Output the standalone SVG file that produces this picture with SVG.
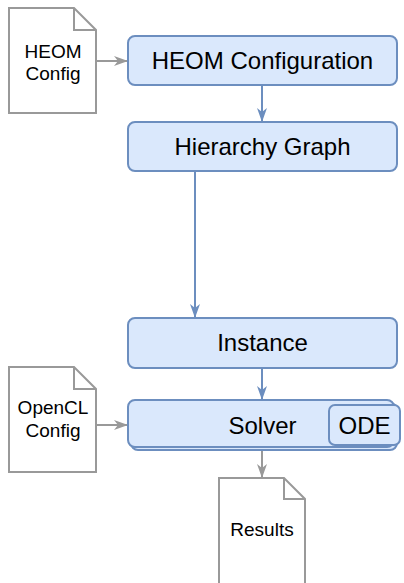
<svg xmlns="http://www.w3.org/2000/svg" width="404" height="583" viewBox="0 0 404 583">
  <style>
    .box { fill: #dae8fc; stroke: #6c8ebf; stroke-width: 2; }
    .doc { fill: #ffffff; stroke: #999999; stroke-width: 2; stroke-linejoin: miter; }
    .fold { fill: none; stroke: #999999; stroke-width: 2; }
    .lbl { font-family: "Liberation Sans", Arial, sans-serif; font-size: 24px; fill: #000000; text-anchor: middle; }
    .doclbl { font-family: "Liberation Sans", Arial, sans-serif; font-size: 19px; fill: #000000; text-anchor: middle; }
    .blue { stroke: #6c8ebf; stroke-width: 2; fill: none; }
    .grey { stroke: #999999; stroke-width: 2; fill: none; }
  </style>
  <defs>
    <marker id="arrowBlue" viewBox="0 0 14 10" refX="13" refY="5" markerWidth="7" markerHeight="5" markerUnits="strokeWidth" orient="auto">
      <path d="M0,0 L14,5 L0,10 L4,5 Z" fill="#6c8ebf"/>
    </marker>
    <marker id="arrowGrey" viewBox="0 0 14 10" refX="13" refY="5" markerWidth="7" markerHeight="5" markerUnits="strokeWidth" orient="auto">
      <path d="M0,0 L14,5 L0,10 L4,5 Z" fill="#999999"/>
    </marker>
  </defs>

  <g id="connectors">
    <line class="grey" x1="96" y1="61" x2="127" y2="61" marker-end="url(#arrowGrey)"/>
    <line class="blue" x1="262" y1="85" x2="262" y2="121" marker-end="url(#arrowBlue)"/>
    <line class="blue" x1="195" y1="171" x2="195" y2="317" marker-end="url(#arrowBlue)"/>
    <line class="blue" x1="262" y1="368" x2="262" y2="399" marker-end="url(#arrowBlue)"/>
    <line class="grey" x1="96" y1="425" x2="127" y2="425" marker-end="url(#arrowGrey)"/>
    <line class="grey" x1="262" y1="450" x2="262" y2="477" marker-end="url(#arrowGrey)"/>
  </g>

  <g id="heom-config-file">
    <path class="doc" d="M9,8 H74 L96,30 V113 H9 Z"/>
    <path class="fold" d="M74,8 V30 H96"/>
    <text class="doclbl" x="53" y="58">HEOM</text>
    <text class="doclbl" x="53" y="80">Config</text>
  </g>

  <g id="heom-configuration">
    <rect class="box" x="128" y="36" width="269" height="49" rx="7"/>
    <text class="lbl" x="262.5" y="69">HEOM Configuration</text>
  </g>

  <g id="hierarchy-graph">
    <rect class="box" x="128" y="122" width="269" height="49" rx="7"/>
    <text class="lbl" x="262.5" y="155">Hierarchy Graph</text>
  </g>

  <g id="instance">
    <rect class="box" x="128" y="318" width="269" height="50" rx="7"/>
    <text class="lbl" x="262.5" y="351">Instance</text>
  </g>

  <g id="opencl-config-file">
    <path class="doc" d="M9,367 H74 L96,389 V472 H9 Z"/>
    <path class="fold" d="M74,367 V389 H96"/>
    <text class="doclbl" x="53" y="414">OpenCL</text>
    <text class="doclbl" x="53" y="437">Config</text>
  </g>

  <g id="solver">
    <rect class="box" x="131" y="403" width="266" height="47" rx="7"/>
    <rect class="box" x="128" y="400" width="266" height="47" rx="7"/>
    <text class="lbl" x="262.5" y="434">Solver</text>
  </g>

  <g id="ode">
    <rect class="box" x="329" y="405" width="71" height="40" rx="6"/>
    <text class="lbl" x="364.5" y="434">ODE</text>
  </g>

  <g id="results-file">
    <path class="doc" d="M219,478 H284 L305,499 V590 H219 Z"/>
    <path class="fold" d="M284,478 V499 H305"/>
    <text class="doclbl" x="262" y="536">Results</text>
  </g>
</svg>
